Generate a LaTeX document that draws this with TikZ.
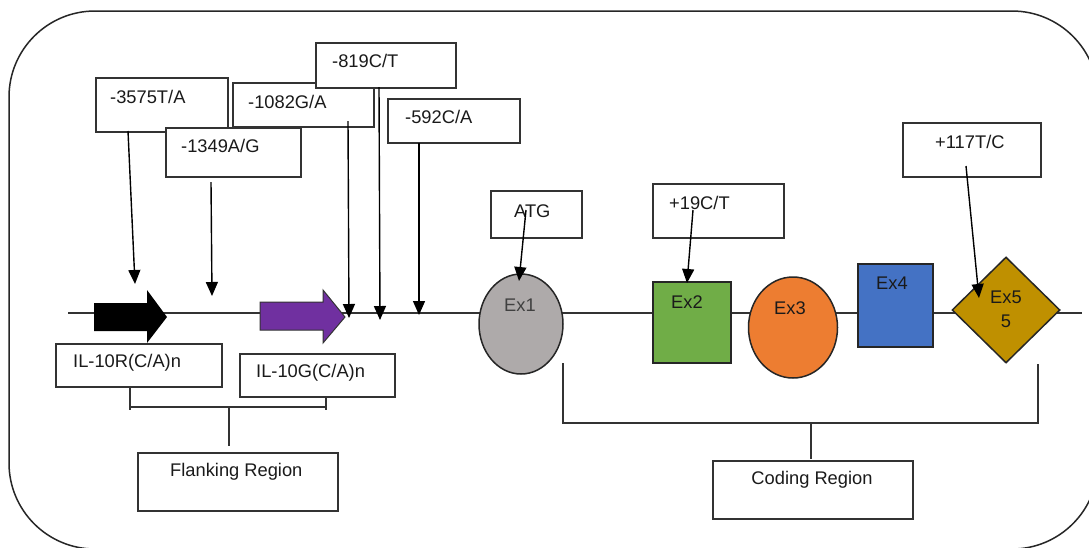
\documentclass[tikz,border=0pt]{standalone}
\usepackage{fontspec}
\setmainfont{Liberation Sans}
\usetikzlibrary{arrows.meta,shapes.geometric,calc}
\definecolor{exgray}{HTML}{AEAAAA}
\definecolor{exgreen}{HTML}{70AD47}
\definecolor{exorange}{HTML}{ED7D31}
\definecolor{exblue}{HTML}{4472C4}
\definecolor{exgold}{HTML}{BF9000}
\definecolor{ilpurple}{HTML}{7030A0}
\definecolor{edge}{HTML}{333333}
\definecolor{txt}{HTML}{1A1A1A}
\begin{document}
\begin{tikzpicture}[x=1pt,y=-1pt,
  lab/.style={box, draw=edge, line width=1.5pt, fill=white, inner sep=0pt, anchor=north west},
  box/.style={rectangle},
  tx/.style={anchor=west, inner sep=0pt, text=txt, font=\fontsize{18.3}{22}\selectfont},
  txc/.style={anchor=center, inner sep=0pt, text=txt, font=\fontsize{18.3}{22}\selectfont},
  arr/.style={line width=1.4pt, draw=black, -{Triangle[width=12pt,length=14pt]}},
  ln/.style={line width=1.5pt, draw=edge},
  exshape/.style={draw=black!85, line width=1.5pt, inner sep=0pt}]
\useasboundingbox (0,0) rectangle (1089,547);
\fill[white] (0,0) rectangle (1089,547);
% outer frame
\draw[line width=1.5pt, draw=black!85, rounded corners=86pt] (9,11) rectangle (1098,549);
% main line
\coordinate (lineL) at (68,313);
\coordinate (lineR) at (1082,313);
\draw[ln] (lineL) -- (lineR);
% repeat arrows
\fill[black] (94,303) -- (147,303) -- (147,290) -- (167,317) -- (147,343) -- (147,331) -- (94,331) -- cycle;
\fill[ilpurple, draw=edge, line width=1pt] (260,302) -- (323,302) -- (323,290) -- (345,317) -- (323,343) -- (323,330) -- (260,330) -- cycle;
% exons
\node[exshape, ellipse, fill=exgray, minimum width=84pt, minimum height=100pt] (ex1) at (521,324) {};
\node[txc, text=black!75] (ex1t) at (520,305) {Ex1};
\node[exshape, rectangle, fill=exgreen, minimum width=78pt, minimum height=81pt] (ex2) at (692,322.5) {};
\node[txc] (ex2t) at (687,302) {Ex2};
\node[exshape, ellipse, fill=exorange, minimum width=89pt, minimum height=101pt] (ex3) at (793,327.5) {};
\node[txc] (ex3t) at (790,308) {Ex3};
\node[exshape, rectangle, fill=exblue, minimum width=75pt, minimum height=83pt] (ex4) at (895.5,305.5) {};
\node[txc] (ex4t) at (892,283) {Ex4};
\node[exshape, diamond, fill=exgold, minimum width=108pt, minimum height=106pt, aspect=1] (ex5) at (1006,310) {};
\node[txc, align=center] (ex5t) at (1006,309) {Ex5\\[2pt]5};
% SNP boxes
\node[lab, minimum width=132pt, minimum height=54pt] (b3575) at (95,77) {};
\node[tx] (t3575) at (110,97) {-3575T/A};
\node[lab, minimum width=141pt, minimum height=44pt] (b1082) at (232,82) {};
\node[tx] (t1082) at (248,102) {-1082G/A};
\node[lab, minimum width=140pt, minimum height=45pt] (b819) at (315,42) {};
\node[tx] (t819) at (332,61) {-819C/T};
\node[lab, minimum width=135pt, minimum height=49pt] (b1349) at (165,127) {};
\node[tx] (t1349) at (181,146) {-1349A/G};
\node[lab, minimum width=132pt, minimum height=44pt] (b592) at (387,98) {};
\node[tx] (t592) at (405,117) {-592C/A};
\node[lab, minimum width=91pt, minimum height=47pt] (batg) at (490,190) {};
\node[tx] (tatg) at (514,211) {ATG};
\node[lab, minimum width=131pt, minimum height=54pt] (b19) at (652,183) {};
\node[tx] (t19) at (669,203) {+19C/T};
\node[lab, minimum width=138pt, minimum height=54pt] (b117) at (902,122) {};
\node[tx] (t117) at (935,142) {+117T/C};
% SNP arrows
\coordinate (s3575) at (128,131); \coordinate (e3575) at (135,284);
\coordinate (s1349) at (211,182); \coordinate (e1349) at (212,296);
\coordinate (s1082) at (348,121); \coordinate (e1082) at (349,318);
\coordinate (s819) at (379,87);   \coordinate (e819) at (380,320);
\coordinate (s592) at (419,143);  \coordinate (e592) at (419,315);
\coordinate (satg) at (526,210);  \coordinate (eatg) at (519,281);
\coordinate (s19) at (693,210);   \coordinate (e19) at (687,283);
\coordinate (s117) at (966,166);  \coordinate (e117) at (979,298);
\draw[arr] (s3575) -- (e3575);
\draw[arr] (s1349) -- (e1349);
\draw[arr] (s1082) -- (e1082);
\draw[arr] (s819) -- (e819);
\draw[arr] (s592) -- (e592);
\draw[arr] (satg) -- (eatg);
\draw[arr] (s19) -- (e19);
\draw[arr] (s117) -- (e117);
% repeat labels
\node[lab, minimum width=166pt, minimum height=43pt] (bR) at (55,343) {};
\node[tx] (tR) at (73,363) {IL-10R(C/A)n};
\node[lab, minimum width=155pt, minimum height=43pt] (bG) at (239,353) {};
\node[tx] (tG) at (256,373) {IL-10G(C/A)n};
% flanking bracket
\coordinate (fl1) at (130,410); \coordinate (fl2) at (326,410);
\coordinate (flm) at (229,407); \coordinate (flmb) at (229,446);
\node[lab, minimum width=200pt, minimum height=58pt] (bF) at (137,452) {};
\node[tx] (tF) at (170,472) {Flanking Region};
\draw[ln] (bR.south -| fl1) -- (fl1);
\draw[ln] (bG.south -| fl2) -- (fl2);
\draw[ln] (130,407) -- (326,407);
\draw[ln] (flm) -- (flmb);
% coding bracket
\coordinate (cd1t) at (563,363); \coordinate (cd1b) at (563,424);
\coordinate (cd2t) at (1038,364); \coordinate (cd2b) at (1038,424);
\coordinate (cdm) at (811,423); \coordinate (cdmb) at (811,459);
\node[lab, minimum width=200pt, minimum height=58pt] (bC) at (712,460) {};
\node[txc] (tC) at (812,480) {Coding Region};
\draw[ln] (cd1t) -- (cd1b);
\draw[ln] (cd2t) -- (cd2b);
\draw[ln] (563,423) -- (1038,423);
\draw[ln] (cdm) -- (cdmb);
\end{tikzpicture}
\end{document}
